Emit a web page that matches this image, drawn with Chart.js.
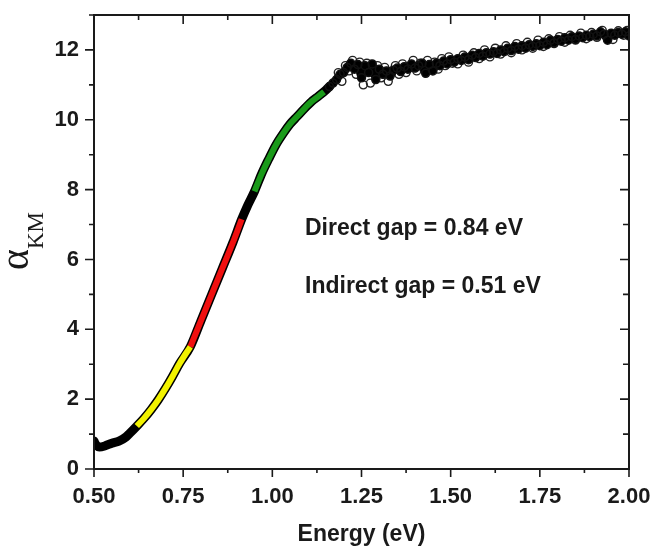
<!DOCTYPE html>
<html>
<head>
<meta charset="utf-8">
<script src="https://cdn.jsdelivr.net/npm/chart.js@4"></script>
<style>
  html, body { margin: 0; padding: 0; background: #fff; }
  #wrap { width: 654px; height: 547px; }
</style>
</head>
<body>
<div id="wrap"><canvas id="kmChart" width="654" height="547"></canvas></div>
<script>
// tick labels
const xTicks = [0.50, 0.75, 1.00, 1.25, 1.50, 1.75, 2.00];
const yTicks = [0, 2, 4, 6, 8, 10, 12];

// smooth absorption edge (black)
const edgeEnergy = [0.50, 0.505, 0.515, 0.53, 0.55, 0.57, 0.59, 0.60, 0.62, 0.64, 0.66, 0.68, 0.70, 0.72, 0.74, 0.77,
    0.80, 0.83, 0.86, 0.89, 0.914, 0.93, 0.95, 0.97, 0.99, 1.01, 1.03, 1.05, 1.07, 1.09, 1.11, 1.13, 1.15, 1.16];
const edgeAlpha = [0.80, 0.70, 0.63, 0.66, 0.74, 0.80, 0.92, 1.02, 1.23, 1.45, 1.70, 1.98, 2.30, 2.65, 3.02, 3.50,
    4.25, 5.00, 5.75, 6.50, 7.15, 7.53, 7.95, 8.45, 8.88, 9.28, 9.60, 9.88, 10.10, 10.32, 10.52, 10.68, 10.85, 10.95];

// noisy plateau, main trace (open circles joined)
const plateauEnergy = [1.16, 1.17, 1.18, 1.19, 1.20, 1.21, 1.22, 1.23, 1.24, 1.25, 1.26, 1.27, 1.28, 1.29, 1.30,
    1.31, 1.32, 1.33, 1.34, 1.35, 1.36, 1.37, 1.38, 1.39, 1.40, 1.41, 1.42, 1.43, 1.44, 1.45, 1.46, 1.47, 1.48, 1.49, 1.50,
    1.51, 1.52, 1.53, 1.54, 1.55, 1.56, 1.57, 1.58, 1.59, 1.60, 1.61, 1.62, 1.63, 1.64, 1.65, 1.66, 1.67, 1.68, 1.69, 1.70,
    1.71, 1.72, 1.73, 1.74, 1.75, 1.76, 1.77, 1.78, 1.79, 1.80, 1.81, 1.82, 1.83, 1.84, 1.85, 1.86, 1.87, 1.88, 1.89, 1.90,
    1.91, 1.92, 1.93, 1.94, 1.95, 1.96, 1.97, 1.98, 1.99, 2.00];
const plateauAlpha = [10.95, 11.05, 11.15, 11.30, 11.35, 11.50, 11.62, 11.45, 11.58, 11.20, 11.55, 11.35, 11.60, 11.15, 11.45,
    11.30, 11.40, 11.25, 11.42, 11.48, 11.38, 11.52, 11.45, 11.60, 11.48, 11.55, 11.62, 11.33, 11.58, 11.40, 11.62, 11.55, 11.68, 11.60, 11.72,
    11.65, 11.75, 11.70, 11.80, 11.72, 11.85, 11.78, 11.90, 11.82, 11.92, 11.88, 11.95, 11.90, 12.00, 11.95, 12.05, 11.98, 12.10, 12.02, 12.12,
    12.05, 12.15, 12.10, 12.18, 12.12, 12.22, 12.15, 12.28, 12.20, 12.30, 12.25, 12.35, 12.28, 12.38, 12.30, 12.40, 12.35, 12.42, 12.38, 12.45,
    12.40, 12.52, 12.45, 12.28, 12.48, 12.42, 12.50, 12.45, 12.52, 12.40];

// noisy plateau, scattered extra points
const scatterEnergy = [1.185, 1.195, 1.205, 1.215, 1.225, 1.235, 1.245, 1.255, 1.265, 1.275, 1.285, 1.295, 1.305, 1.315,
    1.325, 1.335, 1.345, 1.355, 1.365, 1.375, 1.385, 1.395, 1.405, 1.415, 1.425, 1.435, 1.445, 1.455, 1.465, 1.475, 1.485,
    1.495, 1.505, 1.52, 1.535, 1.55, 1.565, 1.58, 1.595, 1.61, 1.625, 1.64, 1.655, 1.67, 1.685, 1.70, 1.715, 1.73, 1.745,
    1.76, 1.775, 1.79, 1.805, 1.82, 1.835, 1.85, 1.865, 1.88, 1.895, 1.91, 1.925, 1.94, 1.955, 1.97, 1.985, 1.995];
const scatterAlpha = [11.35, 11.10, 11.55, 11.40, 11.70, 11.30, 11.65, 11.00, 11.62, 11.05, 11.45, 11.55, 11.20, 11.50,
    11.10, 11.40, 11.55, 11.30, 11.60, 11.35, 11.50, 11.70, 11.40, 11.62, 11.45, 11.70, 11.50, 11.65, 11.45, 11.75, 11.55,
    11.80, 11.62, 11.60, 11.85, 11.65, 11.92, 11.75, 12.00, 11.80, 12.05, 11.88, 12.12, 11.92, 12.18, 12.00, 12.22, 12.05, 12.28,
    12.10, 12.32, 12.18, 12.38, 12.22, 12.42, 12.28, 12.48, 12.32, 12.50, 12.36, 12.56, 12.42, 12.30, 12.55, 12.42, 12.56];

// fitted regions
const yellowEnergy = [0.62, 0.64, 0.66, 0.68, 0.70, 0.72, 0.74, 0.77];
const yellowAlpha = [1.23, 1.45, 1.70, 1.98, 2.30, 2.65, 3.02, 3.50];
const redEnergy = [0.77, 0.80, 0.83, 0.86, 0.89, 0.914];
const redAlpha = [3.50, 4.25, 5.00, 5.75, 6.50, 7.15];
const greenEnergy = [0.95, 0.97, 0.99, 1.01, 1.03, 1.05, 1.07, 1.09, 1.11, 1.13, 1.145];
const greenAlpha = [7.95, 8.45, 8.88, 9.28, 9.60, 9.88, 10.10, 10.32, 10.52, 10.68, 10.80];

const gapLabels = ['Direct gap = 0.84 eV', 'Indirect gap = 0.51 eV'];

function pts(xs, ys) {
    return xs.map((x, i) => ({ x: x, y: ys[i] }));
}

const ink = '#1a1a1a';

// frame, minor/major ticks on all four sides, titles and notes
const decorPlugin = {
    id: 'decor',
    afterDraw(chart) {
        const ctx = chart.ctx;
        const a = chart.chartArea;
        const xs = chart.scales.x, ys = chart.scales.y;
        ctx.save();
        ctx.strokeStyle = ink;
        ctx.lineWidth = 2;
        ctx.strokeRect(a.left, a.top, a.right - a.left, a.bottom - a.top);

        ctx.lineWidth = 1.6;
        ctx.beginPath();
        for (let v = 0.5; v <= 2.0001; v += 0.125) {
            const major = Math.abs((v - 0.5) / 0.25 - Math.round((v - 0.5) / 0.25)) < 1e-6;
            const px = xs.getPixelForValue(v);
            ctx.moveTo(px, a.bottom); ctx.lineTo(px, a.bottom + (major ? 8 : 4));
            ctx.moveTo(px, a.top); ctx.lineTo(px, a.top + (major ? 9 : 5));
        }
        for (let v = 0; v <= 13; v += 1) {
            const major = v % 2 === 0;
            const py = ys.getPixelForValue(v);
            ctx.moveTo(a.left, py); ctx.lineTo(a.left - (major ? 9 : 5), py);
            ctx.moveTo(a.right, py); ctx.lineTo(a.right - (major ? 9 : 6), py);
        }
        ctx.stroke();

        ctx.fillStyle = ink;
        // x title
        ctx.font = 'bold 23px "Liberation Sans", Arial, sans-serif';
        ctx.textAlign = 'center';
        ctx.textBaseline = 'alphabetic';
        ctx.fillText('Energy (eV)', (a.left + a.right) / 2, 541);

        // gap notes
        ctx.textAlign = 'left';
        ctx.fillText(gapLabels[0], 305, 235);
        ctx.fillText(gapLabels[1], 305, 293);

        // y title: alpha with KM subscript
        ctx.translate(28, 270);
        ctx.rotate(-Math.PI / 2);
        ctx.font = '40px "Liberation Serif", "Times New Roman", serif';
        ctx.fillText('\u03b1', 0, 0);
        const w = ctx.measureText('\u03b1').width;
        ctx.font = '23px "Liberation Serif", "Times New Roman", serif';
        ctx.fillText('KM', w, 15);
        ctx.restore();
    }
};

const chart = new Chart(document.getElementById('kmChart'), {
    type: 'scatter',
    data: {
        datasets: [
            {
                data: pts(yellowEnergy, yellowAlpha),
                showLine: true, borderColor: '#f2f200', borderWidth: 6,
                pointRadius: 0, cubicInterpolationMode: 'monotone', order: 1
            },
            {
                data: pts(redEnergy, redAlpha),
                showLine: true, borderColor: '#f01010', borderWidth: 6,
                pointRadius: 0, cubicInterpolationMode: 'monotone', order: 1
            },
            {
                data: pts(greenEnergy, greenAlpha),
                showLine: true, borderColor: '#1a9a1a', borderWidth: 6,
                pointRadius: 0, cubicInterpolationMode: 'monotone', order: 1
            },
            {
                data: pts(edgeEnergy, edgeAlpha),
                showLine: true, borderColor: '#000', borderWidth: 9,
                pointRadius: 0, cubicInterpolationMode: 'monotone', order: 3,
                borderJoinStyle: 'round', borderCapStyle: 'round'
            },
            {
                data: pts(plateauEnergy, plateauAlpha),
                showLine: true, borderColor: '#000', borderWidth: 8,
                borderJoinStyle: 'round', borderCapStyle: 'round',
                pointRadius: 4, pointBorderWidth: 1.5,
                pointBorderColor: '#111', pointBackgroundColor: 'rgba(0,0,0,0)',
                order: 2
            },
            {
                data: pts(scatterEnergy, scatterAlpha),
                showLine: false,
                pointRadius: 4, pointBorderWidth: 1.4,
                pointBorderColor: '#222', pointBackgroundColor: 'rgba(0,0,0,0)',
                order: 2
            }
        ]
    },
    options: {
        responsive: false,
        animation: false,
        layout: { padding: { top: 15, right: 25, left: 0, bottom: 0 } },
        plugins: {
            legend: { display: false },
            tooltip: { enabled: false }
        },
        scales: {
            x: {
                type: 'linear', min: 0.5, max: 2.0,
                grid: { display: false, drawTicks: false },
                border: { display: false },
                afterBuildTicks: s => { s.ticks = xTicks.map(v => ({ value: v })); },
                afterFit: s => { s.height = 78; s.paddingLeft = 0; s.paddingRight = 0; },
                ticks: {
                    padding: 15, color: ink, font: { family: '"Liberation Sans", Arial', size: 22, weight: 'bold' },
                    maxRotation: 0, autoSkip: false,
                    callback: v => Number(v).toFixed(2)
                }
            },
            y: {
                type: 'linear', min: 0, max: 13,
                grid: { display: false, drawTicks: false },
                border: { display: false },
                afterBuildTicks: s => { s.ticks = yTicks.map(v => ({ value: v })); },
                afterFit: s => { s.width = 94; s.paddingTop = 0; s.paddingBottom = 0; },
                ticks: {
                    padding: 15, color: ink, font: { family: '"Liberation Sans", Arial', size: 22, weight: 'bold' },
                    autoSkip: false
                }
            }
        }
    },
    plugins: [decorPlugin]
});
</script>
</body>
</html>
